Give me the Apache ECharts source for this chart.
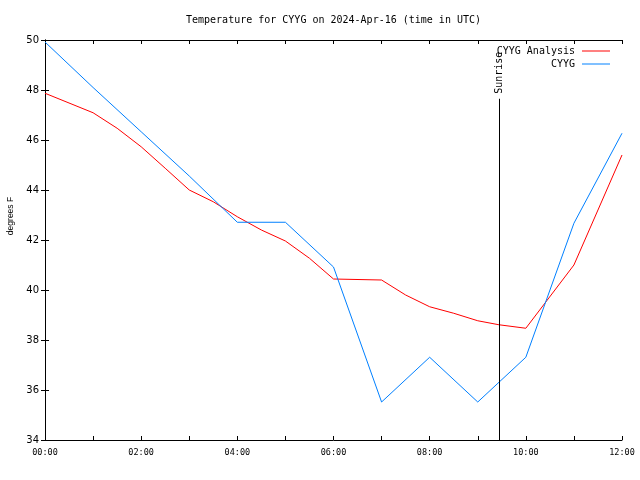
<!DOCTYPE html>
<html><head><meta charset="utf-8">
<script src="https://cdn.jsdelivr.net/npm/echarts@6/dist/echarts.min.js"></script>
<style>html,body{margin:0;padding:0;background:#fff}#c{width:640px;height:480px}</style>
</head><body><div id="c"></div>
<script>
var chartTitle = 'Temperature for CYYG on 2024-Apr-16 (time in UTC)';
var seriesNames = ['CYYG Analysis', 'CYYG'];
var analysisHours = [0,1,1.5,2,2.5,3,3.5,4,4.5,5,5.5,6,7,7.5,8,8.5,9,9.44,10,11,12];
var analysisTemps = [47.87,47.09,46.47,45.73,44.87,44.0,43.53,42.93,42.4,41.96,41.27,40.44,40.4,39.8,39.33,39.07,38.77,38.61,38.47,41.0,45.4];
var obsHours = [0,1,2,3,4,5,6,7,8,9,10,11,12];
var obsTemps = [49.92,48.1,46.33,44.56,42.71,42.71,40.92,35.52,37.31,35.52,37.31,42.67,46.27];
var sunriseHour = 9.44;
var sunriseTop = 47.65;
var yMin = 34, yMax = 50, yStep = 2;
var xMin = 0, xMax = 12;

function pairs(xs, ys){ return xs.map(function(x,i){ return [x, ys[i]]; }); }
function hhmm(v){ var h = Math.round(v); return (h<10?'0':'')+h+':00'; }

var mono = 'DejaVu Sans Mono';
var chart = echarts.init(document.getElementById('c'), null, {renderer:'canvas'});
var axisLine = {show:true, lineStyle:{color:'#000', width:1}};
chart.setOption({
  animation:false,
  backgroundColor:'#fff',
  title:{text:chartTitle, left:186, top:15, padding:0, textStyle:{fontFamily:mono, fontSize:10, fontWeight:'normal', color:'#000'}},
  legend:{
    orient:'vertical', right:30, top:46, padding:0, align:'right', itemGap:3, itemWidth:28, itemHeight:1,
    icon:'rect',
    textStyle:{fontFamily:mono, fontSize:10, color:'#000', padding:[0,2,0,0]},
    data:seriesNames
  },
  grid:{left:45, right:18, top:40, bottom:40, containLabel:false, outerBoundsMode:'none'},
  xAxis:[{
    type:'value', min:xMin, max:xMax, interval:1, position:'bottom',
    axisLine:axisLine, axisTick:{show:true, inside:true, length:4, lineStyle:{color:'#000'}},
    axisLabel:{fontFamily:mono, fontSize:8.5, color:'#000', margin:8, formatter:function(v){ return v%2===0 ? hhmm(v) : ''; }},
    splitLine:{show:false}
  },{
    type:'value', min:xMin, max:xMax, interval:1, position:'top',
    axisLine:axisLine, axisTick:{show:true, inside:true, length:4, lineStyle:{color:'#000'}},
    axisLabel:{show:false}, splitLine:{show:false}
  }],
  yAxis:[{
    type:'value', min:yMin, max:yMax, interval:yStep, position:'left',
    name:'degrees F', nameLocation:'middle', nameRotate:90, nameGap:30,
    nameTextStyle:{fontFamily:'Liberation Sans', fontSize:8.5, color:'#000', padding:[0,0,0,48]},
    axisLine:axisLine, axisTick:{show:true, inside:true, length:4, lineStyle:{color:'#000'}},
    axisLabel:{fontFamily:'DejaVu Sans', fontSize:10, color:'#000', margin:6},
    splitLine:{show:false}
  },{
    type:'value', min:yMin, max:yMax, interval:yStep, position:'right',
    axisLine:axisLine, axisTick:{show:true, inside:true, length:4, lineStyle:{color:'#000'}},
    axisLabel:{show:false}, splitLine:{show:false}
  }],
  series:[{
    name:seriesNames[0], type:'line', data:pairs(analysisHours, analysisTemps),
    symbol:'none', color:'#ff0000', lineStyle:{width:1, color:'#ff0000'},
    markLine:{
      silent:true, symbol:['none','none'],
      lineStyle:{color:'#000', width:1, type:'solid'},
      label:{show:true, formatter:'Sunrise', position:'end', rotate:90, align:'left', verticalAlign:'middle', fontFamily:mono, fontSize:10, color:'#000', distance:5},
      data:[[{coord:[sunriseHour, yMin]},{coord:[sunriseHour, sunriseTop]}]]
    }
  },{
    name:seriesNames[1], type:'line', data:pairs(obsHours, obsTemps),
    symbol:'none', color:'#0080ff', lineStyle:{width:1, color:'#0080ff'}
  }]
});
</script></body></html>
